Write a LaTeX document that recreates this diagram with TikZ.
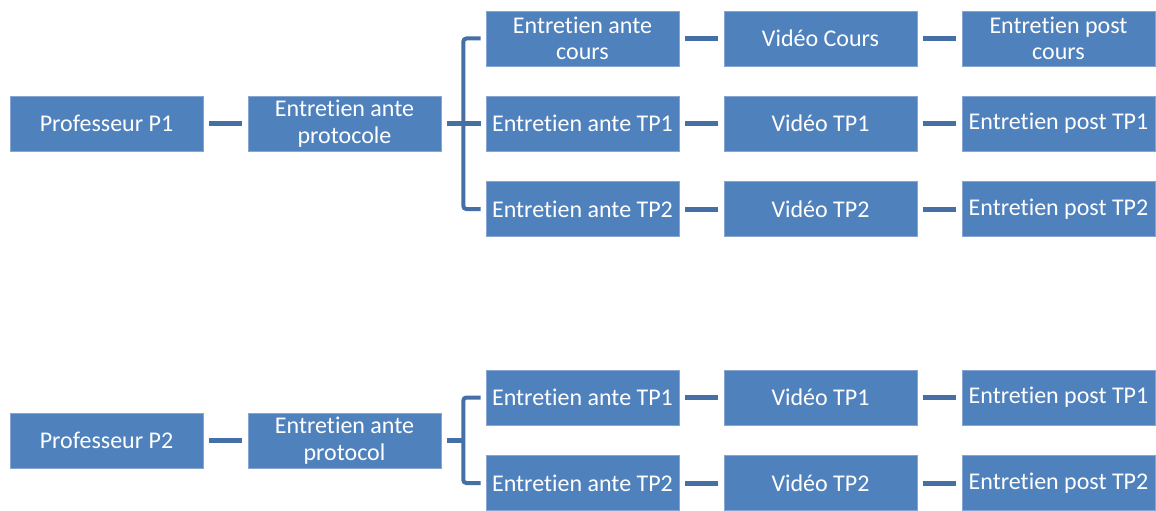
\documentclass[tikz,border=0pt]{standalone}
\usepackage{fontspec}
\setmainfont[Ligatures={NoCommon}]{Carlito}
\definecolor{boxfill}{HTML}{4F81BD}
\definecolor{boxedge}{HTML}{86A5D2}
\definecolor{linkcol}{HTML}{4470A6}
\begin{document}
\begin{tikzpicture}[x=1pt,y=-1pt,
  box/.style={rectangle,fill=boxfill,draw=boxedge,line width=0.7pt,minimum width=193pt,minimum height=55pt,inner sep=0pt,align=center,text=white,font=\fontsize{24}{26.5}\selectfont},
  link/.style={draw=linkcol,line width=5pt},
  brace/.style={draw=linkcol,line width=4pt,rounded corners=3pt}]
\useasboundingbox (0,0) rectangle (1156,511);
% top group
\node[box] (p1) at (106.5,123.5) {Professeur P1};
\node[box] (eap1) at (344.5,123.5) {Entretien ante\\protocole};
\node[box] (ac) at (582.5,38.5) {Entretien ante\\cours};
\node[box] (vc) at (820.5,38.5) {Vidéo Cours};
\node[box] (pc) at (1058.5,38.5) {Entretien post\\cours};
\node[box] (a1) at (582.5,123.5) {Entretien ante TP1};
\node[box] (v1) at (820.5,123.5) {Vidéo TP1};
\node[box] (q1) at (1058.5,123.5) {Entretien post TP1};
\node[box] (a2) at (582.5,209) {Entretien ante TP2};
\node[box] (v2) at (820.5,209) {Vidéo TP2};
\node[box] (q2) at (1058.5,209) {Entretien post TP2};
% bottom group
\node[box] (p2) at (106.5,440.5) {Professeur P2};
\node[box] (eap2) at (344.5,440.5) {Entretien ante\\protocol};
\node[box] (b1) at (582.5,397.5) {Entretien ante TP1};
\node[box] (w1) at (820.5,397.5) {Vidéo TP1};
\node[box] (r1) at (1058.5,397.5) {Entretien post TP1};
\node[box] (b2) at (582.5,483) {Entretien ante TP2};
\node[box] (w2) at (820.5,483) {Vidéo TP2};
\node[box] (r2) at (1058.5,483) {Entretien post TP2};
% simple links
\foreach \s/\t in {p1/eap1,ac/vc,vc/pc,a1/v1,v1/q1,a2/v2,v2/q2,p2/eap2,b1/w1,w1/r1,b2/w2,w2/r2}
  \draw[link] ([xshift=5.5pt]\s.east) -- ([xshift=-5.5pt]\t.west);
% brackets
\coordinate (j1) at ([xshift=22pt]eap1.east);
\draw[link] ([xshift=5.5pt]eap1.east) -- (j1);
\draw[brace] ([xshift=-5pt]ac.west) -| (j1) |- ([xshift=-5pt]a2.west);
\draw[link] (j1) -- ([xshift=-5pt]a1.west);
\coordinate (j2) at ([xshift=22pt]eap2.east);
\draw[link] ([xshift=5.5pt]eap2.east) -- (j2);
\draw[brace] ([xshift=-5pt]b1.west) -| (j2) |- ([xshift=-5pt]b2.west);
\end{tikzpicture}
\end{document}
